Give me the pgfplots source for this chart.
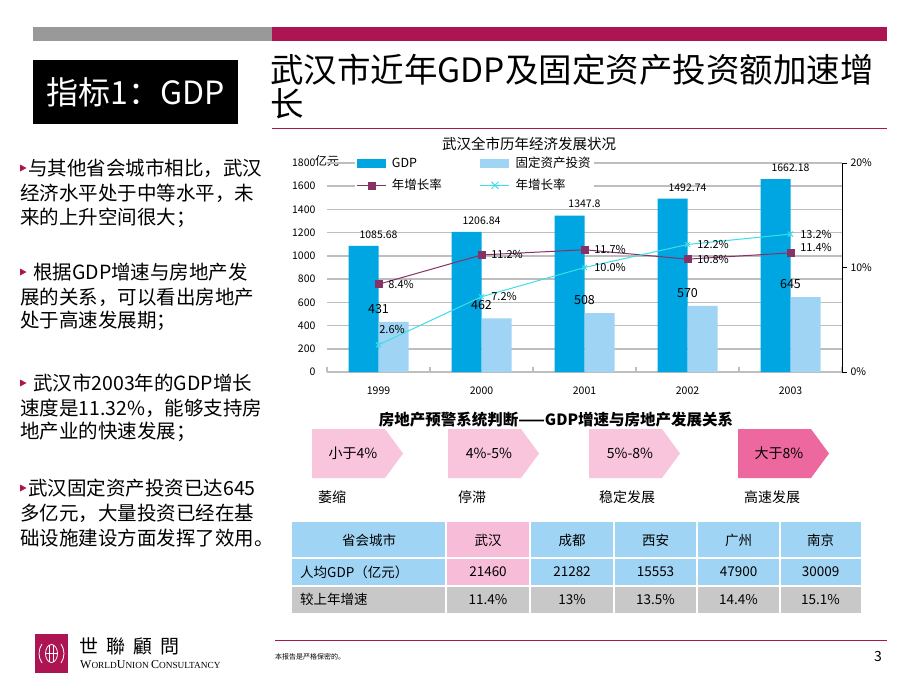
\documentclass[border=0pt]{standalone}
\usepackage{pgfplots}
\usepackage{pgfplotstable}
\pgfplotsset{compat=1.18}
\usepackage{fontspec}
\setmainfont{Noto Sans CJK SC}
\newfontfamily\tcfont{Noto Sans CJK TC}
\newfontfamily\lserif{Liberation Serif}
\newcommand\fs[1]{\fontsize{#1pt}{#1pt}\selectfont}

\definecolor{crimson}{RGB}{172,20,82}
\definecolor{bandgray}{RGB}{153,153,153}
\definecolor{gdpblue}{RGB}{0,166,226}
\definecolor{invblue}{RGB}{160,212,244}
\definecolor{gdpline}{RGB}{135,50,100}
\definecolor{invline}{RGB}{60,222,232}
\definecolor{gridgray}{RGB}{190,190,190}
\definecolor{pinkl}{RGB}{248,197,221}
\definecolor{pinkd}{RGB}{238,104,160}
\definecolor{tblpink}{RGB}{247,188,216}
\definecolor{tblgray}{RGB}{200,200,200}

\pgfplotstableread{
x y dx dy
0 8.4 0 0
1 11.2 0 0
2 11.7 0 0
3 10.8 0 0
4 11.4 0 5
}\gdpgrowth

\pgfplotstableread{
x y dx dy
0 2.6 -9 15
1 7.2 0 0
2 10.0 0 0
3 12.2 0 0
4 13.2 0 0
}\invgrowth

\begin{document}
\begin{tikzpicture}
\begin{scope}[x=1pt,y=-1pt]
\path[use as bounding box] (0,0) rectangle (920,690);
\fill[white] (0,0) rectangle (920,690);
% header bands
\fill[bandgray] (33,27) rectangle (272,41);
\fill[crimson] (272,27) rectangle (887,41);
\fill[black] (33,60) rectangle (238,124);
\node[text=white, font=\fs{32}, inner sep=0] at (135.5,92) {指标1：GDP};
\node[anchor=west, font=\fs{33.5}, inner sep=0] at (270,70) {武汉市近年GDP及固定资产投资额加速增};
\node[anchor=west, font=\fs{33.5}, inner sep=0] at (270,104) {长};
\draw[crimson, line width=1pt] (272,128) -- (887,128);

% left bullets
\foreach \yy in {168,272,383,488}{
  \fill[crimson] (20,\yy-3.5) -- (26.5,\yy) -- (20,\yy+3.5) -- cycle;}
\begin{scope}[every node/.style={anchor=west, inner sep=0, font=\fs{19.5}}]
\node at (28,168) {与其他省会城市相比，武汉};
\node at (20,193) {经济水平处于中等水平，未};
\node at (20,218) {来的上升空间很大；};
\node at (33,272) {根据GDP增速与房地产发};
\node at (20,297) {展的关系，可以看出房地产};
\node at (20,321) {处于高速发展期；};
\node at (33,383) {武汉市2003年的GDP增长};
\node at (20,408) {速度是11.32\%，能够支持房};
\node at (20,432) {地产业的快速发展；};
\node at (28,488) {武汉固定资产投资已达645};
\node at (20,513) {多亿元，大量投资已经在基};
\node at (20,538) {础设施建设方面发挥了效用。};
\end{scope}

% chart title and unit
\node[font=\fs{14.5}] at (529,144) {武汉全市历年经济发展状况};
\node[font=\fs{12}, inner sep=0] at (327,161) {亿元};

% warning system
\node[font=\bfseries\fs{15.5}] at (556,420) {房地产预警系统判断——GDP增速与房地产发展关系};
\foreach \L/\c in {312/pinkl,448/pinkl,589/pinkl,738/pinkd}{
  \fill[\c] (\L,429) -- (\L+73,429) -- (\L+91,453.5) -- (\L+73,478) -- (\L,478) -- cycle;}
\node[font=\fs{14}] at (353,453.5) {小于4\%};
\node[font=\fs{14}] at (489,453.5) {4\%-5\%};
\node[font=\fs{14}] at (630,453.5) {5\%-8\%};
\node[font=\fs{14}] at (779,453.5) {大于8\%};
\begin{scope}[every node/.style={anchor=west, inner sep=0, font=\fs{14}}]
\node at (318,497) {萎缩};
\node at (458,497) {停滞};
\node at (599,497) {稳定发展};
\node at (744,497) {高速发展};
\end{scope}

% table
\fill[invblue] (292,522) rectangle (861,586);
\fill[tblpink] (446,522) rectangle (530,586);
\fill[tblgray] (292,586) rectangle (861,613);
\draw[white, line width=2pt] (292,558) -- (861,558) (292,586) -- (861,586);
\foreach \x in {446,530,614,697,780} \draw[white, line width=2pt] (\x,522) -- (\x,613);
\begin{scope}[every node/.style={font=\fs{13.5}}]
\node at (369,540) {省会城市};
\node at (488,540) {武汉};
\node at (572,540) {成都};
\node at (655.5,540) {西安};
\node at (738.5,540) {广州};
\node at (820.5,540) {南京};
\node[anchor=west, inner sep=0] at (300,572) {人均GDP（亿元）};
\node at (488,572) {21460};
\node at (572,572) {21282};
\node at (655.5,572) {15553};
\node at (738.5,572) {47900};
\node at (820.5,572) {30009};
\node[anchor=west, inner sep=0] at (300,599.5) {较上年增速};
\node at (488,599.5) {11.4\%};
\node at (572,599.5) {13\%};
\node at (655.5,599.5) {13.5\%};
\node at (738.5,599.5) {14.4\%};
\node at (820.5,599.5) {15.1\%};
\end{scope}

% footer
\fill[crimson] (35,634) rectangle (68,673);
\draw[white, line width=0.8pt] (51.5,653.5) ellipse (6 and 9);
\draw[white, line width=0.8pt] (49.5,645) -- (49.5,662) (53.5,645) -- (53.5,662) (45.5,653.5) -- (57.5,653.5);
\draw[white, line width=0.8pt] (42,644) .. controls (38,650) and (38,657) .. (42,663);
\draw[white, line width=0.8pt] (61,644) .. controls (65,650) and (65,657) .. (61,663);
\node[anchor=west, inner sep=0, font=\tcfont\fs{19}] at (79,646) {世\hspace{8pt}聯\hspace{8pt}顧\hspace{8pt}問};
\node[anchor=west, inner sep=0, font=\lserif] at (80,665) {\fs{12}W\fs{9.3}ORLD\fs{12}U\fs{9.3}NION \fs{12}C\fs{9.3}ONSULTANCY};
\draw[crimson, line width=1pt] (275,640) -- (887,640);
\node[anchor=west, inner sep=0, font=\fs{7}] at (275,657) {本报告是严格保密的。};
\node[font=\fs{14}] at (878,657) {3};
\end{scope}

% primary axis
\begin{axis}[
  at={(327pt,-372pt)}, anchor=south west,
  scale only axis, width=515pt, height=209pt,
  xmin=-0.5, xmax=4.5, ymin=0, ymax=1800,
  axis x line*=bottom, axis y line*=left,
  x axis line style={draw=gridgray, line width=1.6pt},
  y axis line style={draw=none},
  xtick={0,1,2,3,4}, xticklabels={1999,2000,2001,2002,2003},
  minor xtick={-0.5,0.5,1.5,2.5,3.5,4.5},
  major x tick style={draw=none},
  minor x tick style={draw=gridgray, line width=1.2pt},
  minor tick length=5pt,
  tick align=inside,
  ytick={0,200,...,1800},
  ytick style={draw=none},
  ymajorgrids, major grid style={draw=gridgray, line width=1.6pt},
  tick label style={font=\fs{10.5}},
  xticklabel style={yshift=-11pt},
  yticklabel style={xshift=-8pt},
  /pgf/number format/assume math mode=true,
  /pgf/number format/1000 sep={},
  legend columns=2, legend cell align=left,
  legend style={at={(0.0544,1.043)}, anchor=north west, draw=none, fill=white,
    font=\fs{12.5}, inner sep=1pt, row sep=6pt,
    /tikz/every even column/.append style={column sep=36pt}},
  clip=false,
]
\addplot[ybar, bar width=30pt, bar shift=-15pt, fill=gdpblue, draw=none,
  legend image code/.code={\fill[gdpblue] (0pt,-4.5pt) rectangle (29pt,4.5pt); \path (33pt,0pt);},
  nodes near coords, point meta=explicit symbolic,
  every node near coord/.append style={font=\fs{10.5}, text=black, yshift=4pt}]
  coordinates {(0,1085.68) [1085.68] (1,1206.84) [1206.84] (2,1347.8) [1347.8] (3,1492.74) [1492.74] (4,1662.18) [1662.18]};
\addlegendentry{GDP}
\addplot[ybar, bar width=30pt, bar shift=15pt, fill=invblue, draw=none,
  legend image code/.code={\fill[invblue] (0pt,-4.5pt) rectangle (29pt,4.5pt); \path (33pt,0pt);},
  nodes near coords, point meta=explicit symbolic,
  every node near coord/.append style={font=\fs{12.5}, text=black, yshift=5pt}]
  coordinates {(0,431) [431] (1,462) [462] (2,508) [508] (3,570) [570] (4,645) [645]};
\addlegendentry{固定资产投资}
\addlegendimage{legend image code/.code={\draw[gdpline, line width=1pt] (0pt,0pt) -- (29pt,0pt); \fill[gdpline] (11pt,-3.5pt) rectangle (18pt,3.5pt); \path (33pt,0pt);}}
\addlegendentry{年增长率}
\addlegendimage{legend image code/.code={\draw[invline, line width=1pt] (0pt,0pt) -- (29pt,0pt); \draw[invline, line width=1pt] (11pt,-3.5pt) -- (18pt,3.5pt) (11pt,3.5pt) -- (18pt,-3.5pt); \path (33pt,0pt);}}
\addlegendentry{年增长率}
\end{axis}

% secondary axis
\begin{axis}[
  at={(327pt,-372pt)}, anchor=south west,
  scale only axis, width=515pt, height=209pt,
  xmin=-0.5, xmax=4.5, ymin=0, ymax=20,
  axis x line=none, axis y line*=right,
  y axis line style={draw=black, line width=1pt},
  ytick={0,10,20}, yticklabels={0\%,10\%,20\%},
  ytick style={draw=black, line width=1pt},
  tick align=outside, major tick length=5pt,
  yticklabel style={font=\fs{10.5}},
  /pgf/number format/assume math mode=true,
  clip=false,
]
\addplot[gdpline, line width=1pt, mark=square*, mark size=3.5pt, mark options={solid, fill=gdpline},
  nodes near coords={\pgfmathprintnumber[fixed,fixed zerofill,precision=1]{\pgfplotspointmeta}\%},
  point meta=y,
  visualization depends on={\thisrow{dx} \as \myxs},
  visualization depends on={\thisrow{dy} \as \myys},
  every node near coord/.append style={anchor=west, text=black, font=\fs{11}, xshift={(6+\myxs)*1pt}, yshift={\myys*1pt}}]
  table[x=x, y=y] {\gdpgrowth};
\addplot[invline, line width=1pt, mark=x, mark size=3.5pt, mark options={solid},
  nodes near coords={\pgfmathprintnumber[fixed,fixed zerofill,precision=1]{\pgfplotspointmeta}\%},
  point meta=y,
  visualization depends on={\thisrow{dx} \as \myxs},
  visualization depends on={\thisrow{dy} \as \myys},
  every node near coord/.append style={anchor=west, text=black, font=\fs{11}, xshift={(6+\myxs)*1pt}, yshift={\myys*1pt}}]
  table[x=x, y=y] {\invgrowth};
\end{axis}
\end{tikzpicture}
\end{document}
